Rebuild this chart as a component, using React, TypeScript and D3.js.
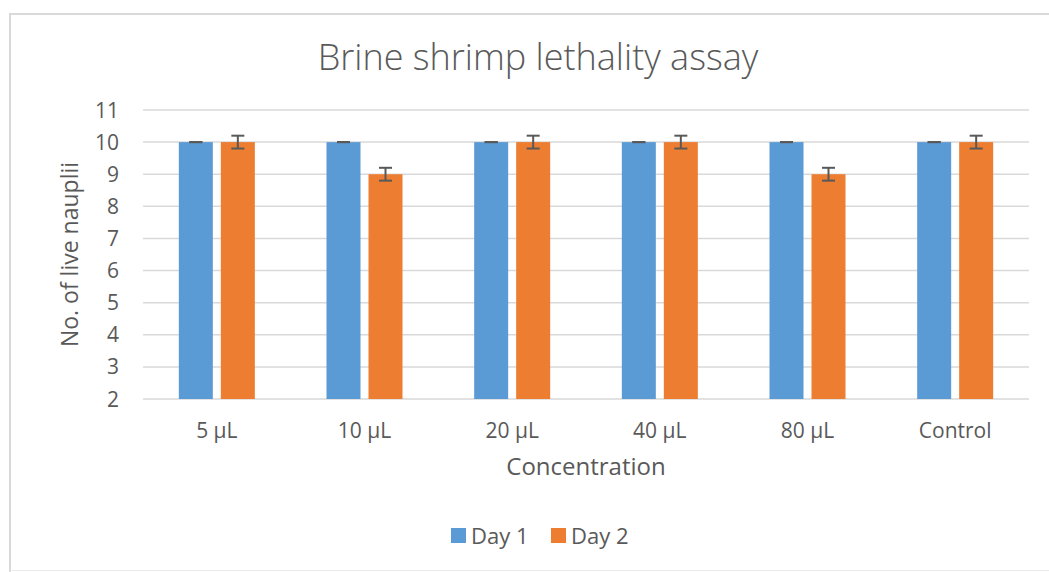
import React from "react";
import * as d3 from "d3";

const categories = ["5 µL", "10 µL", "20 µL", "40 µL", "80 µL", "Control"];
const seriesNames = ["Day 1", "Day 2"];
const day1 = [10, 10, 10, 10, 10, 10];
const day2 = [10, 9, 10, 10, 9, 10];
const day1Err = [0, 0, 0, 0, 0, 0];
const day2Err = [0.2, 0.2, 0.2, 0.2, 0.2, 0.2];
const yTicks = [2, 3, 4, 5, 6, 7, 8, 9, 10, 11];
const colors = ["#5B9BD5", "#ED7D31"];

export default function App() {
  const W = 1049, H = 572;
  const left = 143, right = 1029, top = 110, bottom = 399;
  const x = d3.scaleBand<string>().domain(categories).range([left, right]).paddingInner(0).paddingOuter(0);
  const bw0 = x.bandwidth();
  const x1 = d3.scaleBand<string>().domain(seriesNames).range([bw0 / 2 - 38, bw0 / 2 + 38]).paddingInner(8 / 42).paddingOuter(0);
  const y = d3.scaleLinear().domain([2, 11]).range([bottom, top]);
  const series = [
    { name: "Day 1", vals: day1, err: day1Err },
    { name: "Day 2", vals: day2, err: day2Err },
  ];
  const font = "'Open Sans', 'DejaVu Sans', sans-serif";
  const textColor = "#595959";
  return (
    <svg width={W} height={H} style={{ position: "absolute", left: 0, top: 0, background: "#fff" }}>
      <rect x={0} y={0} width={W} height={H} fill="#fff" />
      <path d={`M10,${H} V14 H${W}`} fill="none" stroke="#d9d9d9" strokeWidth={2} />
      <line x1={10} x2={W} y1={570.5} y2={570.5} stroke="#ececec" strokeWidth={1} />
      <text x={538} y={70} textAnchor="middle" fontFamily={font} fontWeight={300} fontSize={36} fill={textColor}>
        Brine shrimp lethality assay
      </text>
      {yTicks.map((t) => (
        <g key={t}>
          <line x1={left} x2={right} y1={y(t)} y2={y(t)} stroke="#d9d9d9" strokeWidth={1.5} />
          <text x={119} y={y(t) + 7.5} textAnchor="end" fontFamily={font} fontSize={21} fill={textColor}>
            {t}
          </text>
        </g>
      ))}
      {series.map((s, si) =>
        categories.map((c, ci) => {
          const bx = (x(c) as number) + (x1(s.name) as number);
          const bw = x1.bandwidth();
          const cx = bx + bw / 2;
          const v = s.vals[ci];
          const e = s.err[ci];
          return (
            <g key={s.name + c}>
              <rect x={bx} y={y(v)} width={bw} height={y(2) - y(v)} fill={colors[si]} />
              <g stroke="#595959" strokeWidth={2}>
                <line x1={cx} x2={cx} y1={y(v + e)} y2={y(v - e)} />
                <line x1={cx - 6.5} x2={cx + 6.5} y1={y(v + e)} y2={y(v + e)} />
                <line x1={cx - 6.5} x2={cx + 6.5} y1={y(v - e)} y2={y(v - e)} />
              </g>
            </g>
          );
        })
      )}
      {categories.map((c) => (
        <text key={c} x={(x(c) as number) + x.bandwidth() / 2} y={438} textAnchor="middle" fontFamily={font} fontSize={21} fill={textColor}>
          {c}
        </text>
      ))}
      <text x={(left + right) / 2} y={475} textAnchor="middle" fontFamily={font} fontSize={24} fill={textColor}>
        Concentration
      </text>
      <text transform={`translate(78,${(top + bottom) / 2}) rotate(-90)`} textAnchor="middle" fontFamily={font} fontSize={23} fill={textColor}>
        No. of live nauplii
      </text>
      {seriesNames.map((n, i) => (
        <g key={n} transform={`translate(${451 + i * 100},528)`}>
          <rect x={0} y={0} width={15} height={15} fill={colors[i]} />
          <text x={20} y={16} fontFamily={font} fontSize={22} fill={textColor}>
            {n}
          </text>
        </g>
      ))}
    </svg>
  );
}
